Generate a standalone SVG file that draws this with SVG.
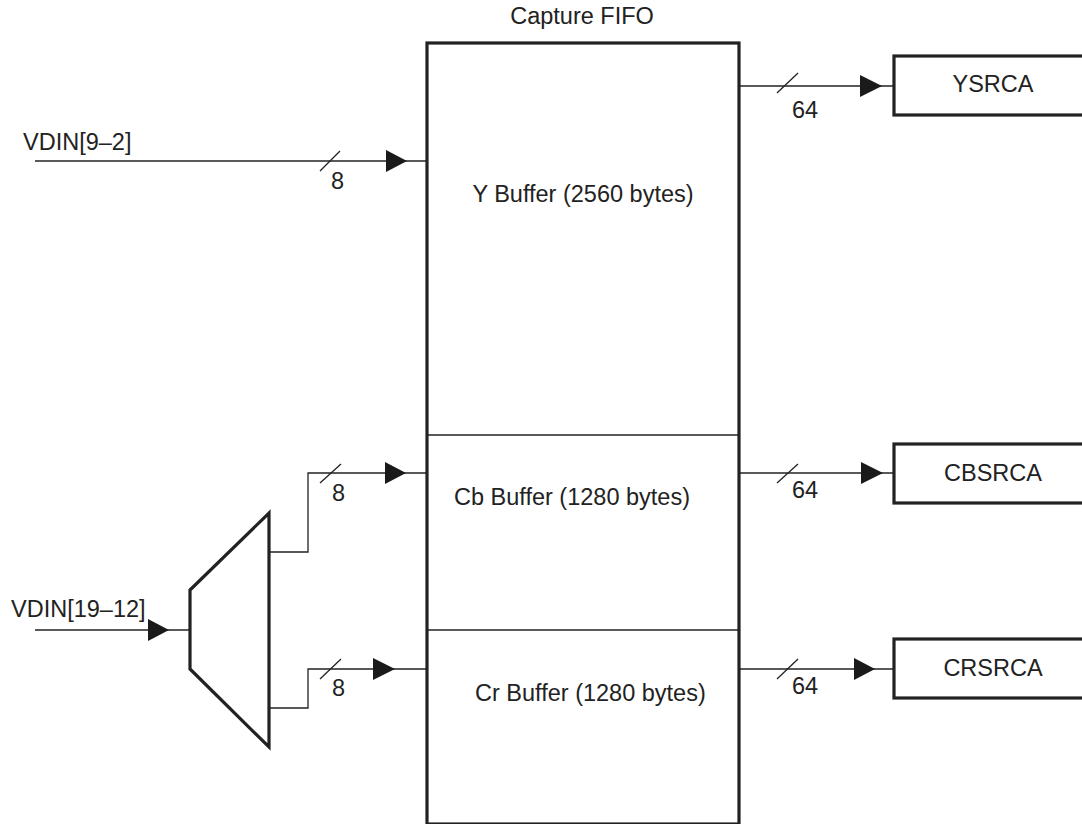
<svg xmlns="http://www.w3.org/2000/svg" width="1082" height="824" viewBox="0 0 1082 824">
<style>
text{font-family:"Liberation Sans",Arial,sans-serif;font-size:23.5px;fill:#222}
.thick{fill:none;stroke:#222;stroke-width:3.2}
.thin{fill:none;stroke:#222;stroke-width:1.3}
.ah{fill:#1a1a1a;stroke:none}
</style>
<rect width="1082" height="824" fill="#fff"/>
<g id="fifo">
<rect class="thick" x="427" y="43" width="312" height="781"/>
<line class="thin" x1="427" y1="435" x2="739" y2="435"/>
<line class="thin" x1="427" y1="630" x2="739" y2="630"/>
<text x="582" y="24" text-anchor="middle">Capture FIFO</text>
<text x="583" y="202" text-anchor="middle">Y Buffer (2560 bytes)</text>
<text x="454" y="505">Cb Buffer (1280 bytes)</text>
<text x="475" y="701">Cr Buffer (1280 bytes)</text>
</g>
<g id="mux">
<polygon class="thick" points="190,590 269,513 269,747 190,669"/>
</g>
<g id="ysrca">
<rect class="thick" x="894" y="56" width="200" height="59"/>
<text x="993" y="92" text-anchor="middle">YSRCA</text>
</g>
<g id="cbsrca">
<rect class="thick" x="894" y="444" width="200" height="59"/>
<text x="993" y="481" text-anchor="middle">CBSRCA</text>
</g>
<g id="crsrca">
<rect class="thick" x="894" y="639" width="200" height="59"/>
<text x="993" y="676" text-anchor="middle">CRSRCA</text>
</g>
<g id="labels">
<text x="23" y="150">VDIN[9–2]</text>
<text x="11" y="617">VDIN[19–12]</text>
</g>
<g id="connectors">
<line class="thin" x1="35" y1="161" x2="427" y2="161"/>
<polygon class="ah" points="386,150 407,161 386,172"/>
<line class="thin" x1="320" y1="171" x2="340" y2="151"/>
<text x="331" y="189">8</text>

<line class="thin" x1="35" y1="630" x2="190" y2="630"/>
<polygon class="ah" points="148,619 169,630 148,641"/>

<polyline class="thin" points="269,552 308,552 308,473 427,473"/>
<polygon class="ah" points="385,462 406,473 385,484"/>
<line class="thin" x1="320" y1="483" x2="341" y2="464"/>
<text x="332" y="501">8</text>

<polyline class="thin" points="269,708 308,708 308,669 427,669"/>
<polygon class="ah" points="373,658 395,669 373,680"/>
<line class="thin" x1="320" y1="679" x2="341" y2="659"/>
<text x="332" y="696">8</text>

<line class="thin" x1="739" y1="86" x2="894" y2="86"/>
<polygon class="ah" points="860,75 882,86 860,97"/>
<line class="thin" x1="777" y1="93" x2="798" y2="73"/>
<text x="792" y="118">64</text>

<line class="thin" x1="739" y1="473" x2="894" y2="473"/>
<polygon class="ah" points="861,462 883,473 861,484"/>
<line class="thin" x1="777" y1="483" x2="798" y2="464"/>
<text x="792" y="498">64</text>

<line class="thin" x1="739" y1="669" x2="894" y2="669"/>
<polygon class="ah" points="854,658 875,669 854,680"/>
<line class="thin" x1="777" y1="679" x2="798" y2="659"/>
<text x="792" y="694">64</text>
</g>
</svg>
